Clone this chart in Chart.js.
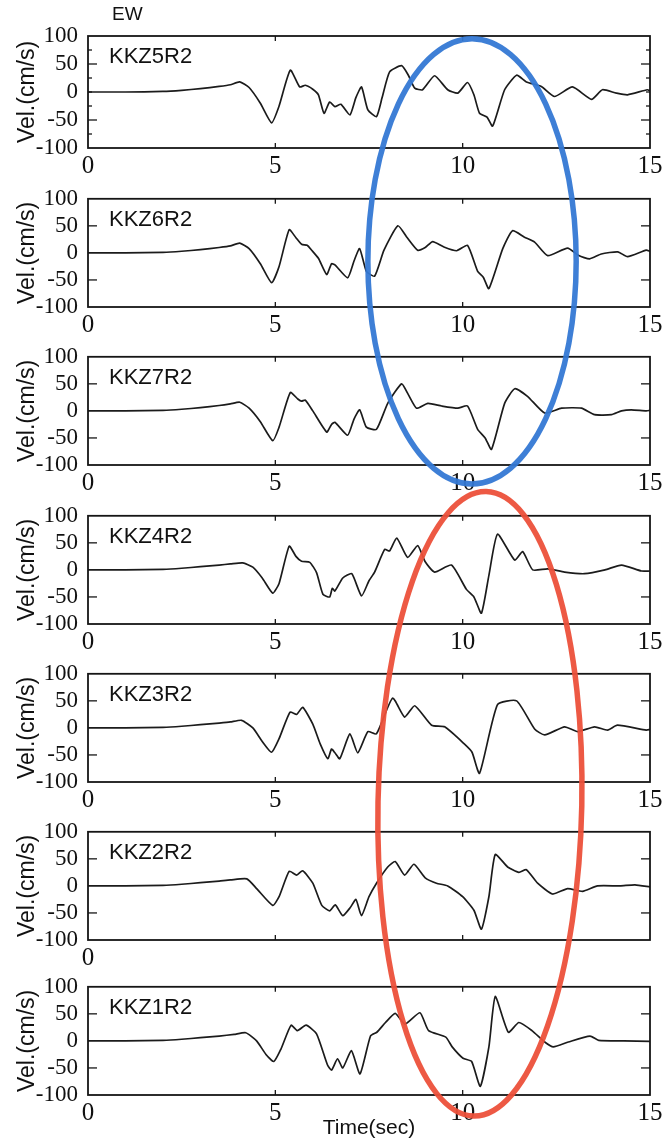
<!DOCTYPE html>
<html>
<head>
<meta charset="utf-8">
<script src="https://cdn.jsdelivr.net/npm/chart.js@4.4.1/dist/chart.umd.min.js"></script>
<style>
  html,body{margin:0;padding:0;background:#fff;}
  #wrap{position:relative;width:670px;height:1144px;overflow:hidden;background:#fff;}
  canvas{position:absolute;left:0;}
</style>
</head>
<body>
<div id="wrap"></div>
<script>
// ---------------- DATA ----------------
const panelNames = ['KKZ5R2','KKZ6R2','KKZ7R2','KKZ4R2','KKZ3R2','KKZ2R2','KKZ1R2'];
const componentLabel = 'EW';
const yTickValues = [-100, -50, 0, 50, 100];
const xTickLabels = ['0', '5', '10', '15'];

const t5 = [0,1,2,2.5,3,3.5,3.8,4.05,4.3,4.6,4.9,5.1,5.4,5.65,5.8,6.0,6.15,6.3,6.45,6.59,6.75,6.99,7.15,7.3,7.47,7.7,7.85,8.05,8.37,8.55,8.72,8.93,9.25,9.6,9.87,10.13,10.3,10.45,10.65,10.8,11.12,11.44,11.7,12.1,12.45,12.93,13.44,13.73,14.1,14.4,14.93,15];
const v5 = [0,0,1,3,6,10,13,18,8,-20,-55,-25,39,9,12,5,-5,-38,-18,-26,-22,-41,-10,9,-32,-44,-10,36,47,30,7,4,29,4,-2,17,-5,-38,-45,-61,4,30,18,10,-8,9,-13,4,-2,-5,4,2];

const t6 = [0,1,2,2.5,3,3.5,3.8,4.05,4.3,4.6,4.9,5.1,5.37,5.55,5.7,5.85,5.97,6.15,6.37,6.5,6.59,6.93,7.1,7.25,7.43,7.65,7.9,8.27,8.5,8.8,9.0,9.2,9.5,9.84,10.13,10.4,10.55,10.7,11.07,11.33,11.65,11.92,12.27,12.8,13.1,13.39,13.7,14.14,14.4,14.9,15];
const v6 = [0,0,1,3,6,10,13,18,8,-20,-55,-25,43,28,16,14,5,-10,-40,-20,-22,-46,-15,8,-34,-43,5,50,30,5,10,21,11,4,14,-34,-45,-66,8,41,29,20,-5,9,-5,-11,-2,2,-7,5,3];

const t7 = [0,1,2,2.5,3,3.5,3.8,4.05,4.3,4.6,4.93,5.1,5.4,5.6,5.7,5.8,6.0,6.37,6.5,6.59,6.93,7.1,7.25,7.43,7.7,8.0,8.37,8.55,8.77,9.07,9.44,9.87,10.13,10.4,10.6,10.77,11.12,11.39,11.73,12.19,12.64,13.17,13.52,13.97,14.24,14.5,14.9,15];
const v7 = [0,0,1,3,6,10,13,16,5,-20,-55,-30,34,22,18,20,0,-39,-25,-21,-45,-15,2,-30,-34,14,50,30,5,14,9,5,9,-34,-50,-71,14,41,27,-4,5,5,-7,-7,0,2,0,1];

const t4 = [0,1,2,2.5,3,3.5,3.8,4.13,4.4,4.65,4.93,5.1,5.37,5.55,5.7,5.92,6.1,6.27,6.45,6.52,6.59,6.8,7.04,7.3,7.5,7.65,7.92,8.05,8.24,8.53,8.8,9.0,9.25,9.7,10.1,10.3,10.5,10.7,10.93,11.39,11.6,11.87,12.27,12.72,13.25,13.8,14.24,14.77,15];
const v4 = [0,0,1,3,6,9,11,13,5,-15,-43,-25,44,25,16,14,-5,-45,-50,-34,-39,-15,-7,-48,-20,-4,38,35,59,23,45,15,-4,9,-36,-50,-80,-10,66,18,34,0,2,-4,-7,0,9,-2,-2];

const t3 = [0,1,2,2.5,3,3.5,3.8,4.1,4.4,4.65,4.9,5.1,5.39,5.57,5.73,6.0,6.2,6.4,6.5,6.59,6.72,6.99,7.2,7.47,7.7,8.13,8.45,8.72,9.17,9.52,10.05,10.25,10.45,10.93,11.44,11.92,12.19,12.72,13.07,13.52,13.87,14.13,14.9,15];
const v3 = [0,0,1,3,6,9,11,14,0,-25,-45,-20,29,25,38,7,-30,-57,-39,-46,-57,-11,-46,-7,-11,55,20,41,5,2,-30,-45,-84,43,50,-2,-13,2,-7,2,-4,5,-4,-3];

const t2 = [0,1,2,2.5,3,3.5,3.8,4.24,4.5,4.93,5.1,5.37,5.57,5.73,6.0,6.24,6.45,6.6,6.8,7.0,7.15,7.3,7.5,7.7,8.0,8.2,8.45,8.7,9.0,9.3,9.6,10.0,10.3,10.5,10.7,10.87,11.2,11.5,11.7,12.0,12.4,12.8,13.2,13.6,14.2,14.6,15];
const v2 = [0,0,1,3,6,9,11,13,-5,-36,-20,27,20,28,5,-36,-46,-35,-55,-40,-25,-55,-20,5,35,45,20,40,15,5,0,-20,-45,-80,-20,58,35,25,30,5,-15,-5,-10,0,0,2,-2];

const t1 = [0,1,2,2.5,3,3.5,3.9,4.21,4.5,4.75,4.96,5.15,5.42,5.59,5.82,6.1,6.39,6.5,6.66,6.8,7.03,7.26,7.54,7.71,7.94,8.2,8.46,8.86,9.09,9.55,9.72,10.01,10.24,10.47,10.7,10.87,11.22,11.5,11.85,12.19,12.42,12.82,13.4,13.63,14.3,15];
const v1 = [0,0,1,3,6,9,12,15,0,-25,-38,-15,29,19,29,13,-44,-54,-33,-50,-18,-61,9,16,34,51,31,52,19,7,-11,-32,-38,-84,-11,82,16,34,19,-2,-11,-2,9,1,0,-1];

const seriesT = [t5, t6, t7, t4, t3, t2, t1];
const seriesV = [v5, v6, v7, v4, v3, v2, v1];

// ---------------- LAYOUT ----------------
const plotTops = [36, 195, 353, 512, 670, 828, 983];
const plotH = 112;
const AXIS_W = 88;
const RIGHT_PAD = 20;

const framePlugin = {
  id: 'frame',
  afterDraw(chart, args, o) {
    const {ctx, chartArea: a, scales: {x, y}} = chart;
    ctx.save();
    ctx.strokeStyle = '#161616';
    ctx.lineWidth = 1.8;
    ctx.strokeRect(a.left, a.top, a.right - a.left, a.bottom - a.top);
    const seg = (x1, y1, x2, y2) => { ctx.beginPath(); ctx.moveTo(x1, y1); ctx.lineTo(x2, y2); ctx.stroke(); };
    ctx.lineWidth = 1.3;
    [50, -50].forEach(v => {
      const py = y.getPixelForValue(v);
      seg(a.left, py, a.left + 9, py);
      seg(a.right, py, a.right - 9, py);
    });
    if (o.minor) {
      [75, 25, 0, -25, -75].forEach(v => {
        const py = y.getPixelForValue(v);
        seg(a.left, py, a.left + 4, py);
        seg(a.right, py, a.right - 4, py);
      });
    }
    [5, 10].forEach(t => {
      const px = x.getPixelForValue(t);
      seg(px, a.top, px, a.top + 5);
      seg(px, a.bottom, px, a.bottom - 5);
    });
    ctx.fillStyle = '#111';
    ctx.textBaseline = 'middle';
    ctx.textAlign = 'left';
    ctx.font = '22px "Liberation Sans", Arial, sans-serif';
    ctx.fillText(o.label, a.left + 21, a.top + 21);
    if (o.head) {
      ctx.font = '19px "Liberation Sans", Arial, sans-serif';
      ctx.fillText(o.head, a.left + 24, a.top - 21);
    }
    ctx.restore();
  }
};

const wrap = document.getElementById('wrap');
const charts = [];
const canvasTops = [];

panelNames.forEach((name, i) => {
  const last = i === panelNames.length - 1;
  const padTop = i === 0 ? 36 : 20;
  const bottomH = last ? 46 : 40;
  const H = padTop + plotH + bottomH;
  const top = plotTops[i] - padTop;
  canvasTops.push(top);
  const cv = document.createElement('canvas');
  cv.width = 670; cv.height = H;
  cv.style.top = top + 'px';
  cv.style.width = '670px'; cv.style.height = H + 'px';
  wrap.appendChild(cv);

  const pts = seriesT[i].map((t, k) => ({x: t, y: seriesV[i][k]}));
  const ch = new Chart(cv, {
    type: 'line',
    data: { datasets: [{ data: pts, borderColor: '#1b1b1b', borderWidth: 1.7, pointRadius: 0, tension: 0.18, fill: false }] },
    options: {
      responsive: false, animation: false, devicePixelRatio: 1,
      layout: { padding: { top: padTop, right: RIGHT_PAD, left: 0, bottom: 0 } },
      plugins: { legend: { display: false }, tooltip: { enabled: false },
        frame: { label: name, minor: i === 0, head: i === 0 ? componentLabel : null } },
      scales: {
        x: {
          type: 'linear', min: 0, max: 15,
          grid: { display: false, drawTicks: false },
          border: { display: false },
          ticks: {
            stepSize: 5, padding: 3, color: '#111', maxRotation: 0, autoSkip: false,
            font: { family: '"Liberation Serif", "Times New Roman", serif', size: 25 },
            callback: (v, idx) => (i === 5 && v !== 0) ? '' : xTickLabels[idx]
          },
          title: { display: last, text: 'Time(sec)', color: '#111', padding: { top: 0, bottom: 0 },
            font: { family: '"Liberation Sans Narrow", "Liberation Sans", Arial, sans-serif', size: 21 } },
          afterFit: s => { s.height = bottomH; }
        },
        y: {
          min: -100, max: 100,
          grid: { display: false, drawTicks: false },
          border: { display: false },
          afterBuildTicks: s => { s.ticks = yTickValues.map(v => ({value: v})); },
          ticks: { padding: 10, color: '#111', autoSkip: false,
            font: { family: '"Liberation Serif", "Times New Roman", serif', size: 23 } },
          title: { display: true, text: 'Vel.(cm/s)', color: '#111', padding: { top: 14, bottom: 0 },
            font: { family: '"Liberation Sans", Arial, sans-serif', size: 23 } },
          afterFit: s => { s.width = AXIS_W; }
        }
      }
    },
    plugins: [framePlugin]
  });
  charts.push(ch);
});

// ---------------- ANNOTATION ELLIPSES ----------------
const ellipseSpecs = [
  { color: 'rgba(52,120,212,0.95)', tCenter: 10.25, tHalf: 2.78, fromPanel: 0, fromV: 95, toPanel: 2, toV: -135, rot: 0 },
  { color: 'rgba(236,80,58,0.95)', tCenter: 10.46, tHalf: 2.72, fromPanel: 3, fromV: 145, toPanel: 6, toV: -139, rot: 0.02 }
];
const ov = document.createElement('canvas');
ov.width = 670; ov.height = 1144;
ov.style.top = '0px';
wrap.appendChild(ov);
const octx = ov.getContext('2d');
ellipseSpecs.forEach(e => {
  const cx = charts[e.fromPanel].scales.x.getPixelForValue(e.tCenter);
  const rx = charts[e.fromPanel].scales.x.getPixelForValue(e.tCenter + e.tHalf) - cx;
  const y0 = charts[e.fromPanel].scales.y.getPixelForValue(e.fromV) + canvasTops[e.fromPanel];
  const y1 = charts[e.toPanel].scales.y.getPixelForValue(e.toV) + canvasTops[e.toPanel];
  octx.save();
  octx.strokeStyle = e.color;
  octx.lineWidth = 5.5;
  octx.beginPath();
  octx.ellipse(cx, (y0 + y1) / 2, rx, (y1 - y0) / 2, e.rot, 0, Math.PI * 2);
  octx.stroke();
  octx.restore();
});
</script>
</body>
</html>
